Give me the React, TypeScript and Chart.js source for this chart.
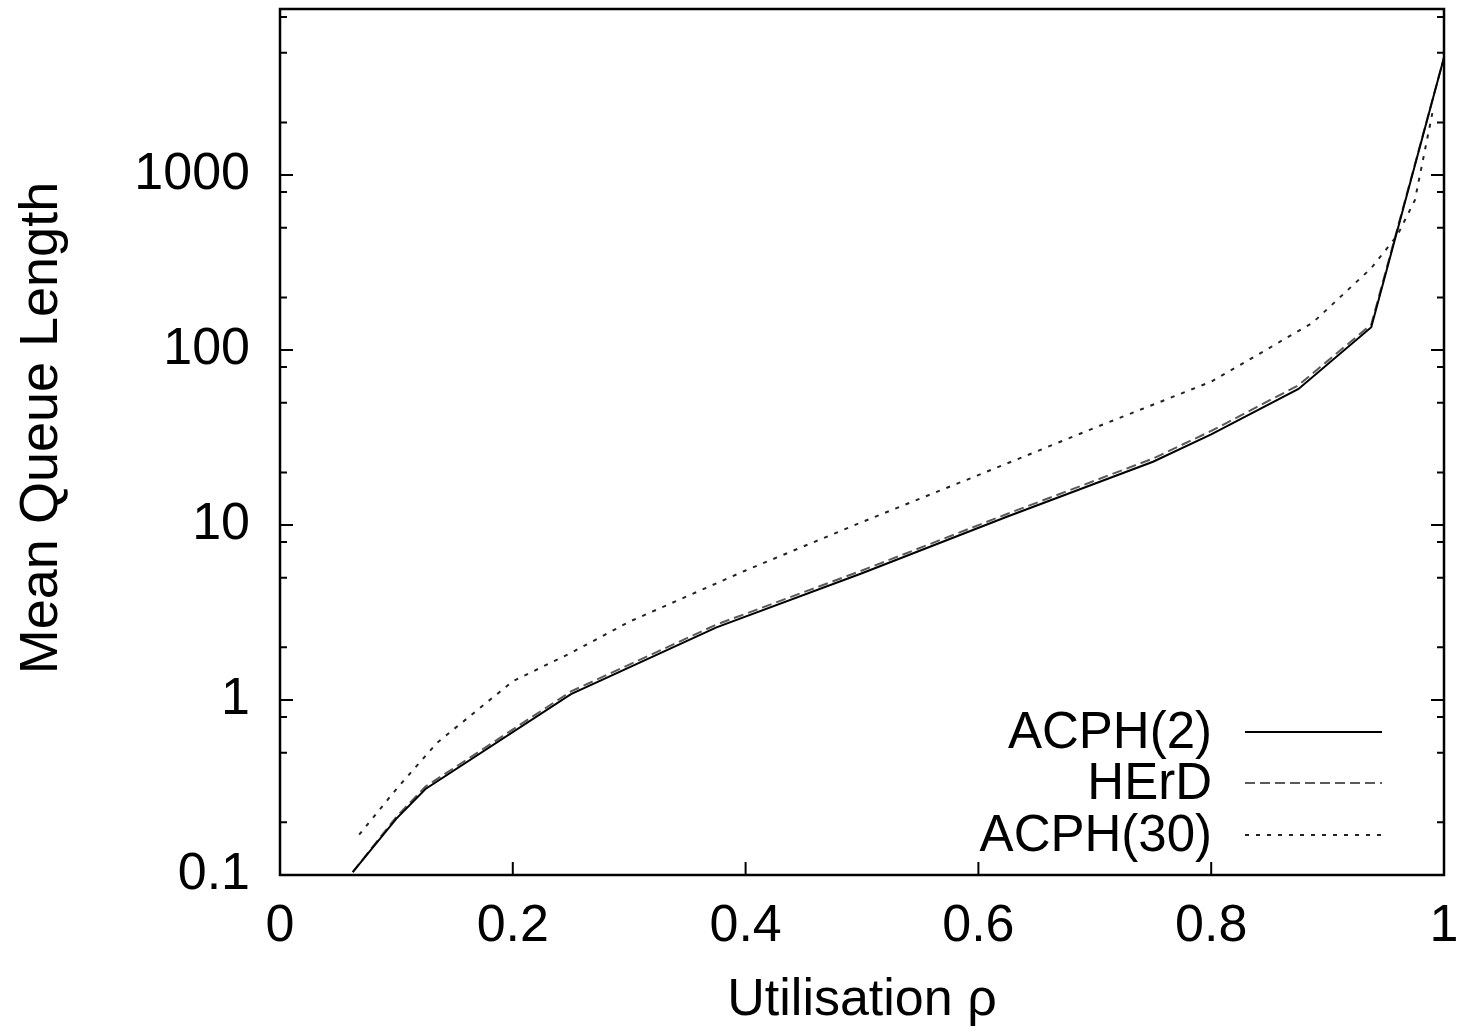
import React, { useEffect, useRef } from 'react';
import { Chart, registerables } from 'chart.js';

Chart.register(...registerables);

// ---- data ----
const seriesNames = ['ACPH(2)', 'HErD', 'ACPH(30)'];

const rhoACPH2 = [0.0625, 0.1, 0.125, 0.25, 0.375, 0.5, 0.625, 0.75, 0.8, 0.875, 0.9375, 1.0];
const qACPH2 = [0.104, 0.21, 0.31, 1.08, 2.6, 5.3, 11.2, 23, 33, 60, 135, 4700];

const rhoHErD = [0.0625, 0.1, 0.125, 0.25, 0.375, 0.5, 0.625, 0.75, 0.8, 0.875, 0.9375, 1.0];
const qHErD = [0.104, 0.215, 0.32, 1.12, 2.7, 5.5, 11.6, 24, 34.5, 63, 140, 4700];

const rhoACPH30 = [0.068, 0.1, 0.135, 0.2, 0.25, 0.3, 0.4, 0.5, 0.6, 0.7, 0.8, 0.887, 0.9375, 0.96, 0.975, 0.99];
const qACPH30 = [0.17, 0.31, 0.57, 1.28, 1.86, 2.8, 5.5, 10.4, 19.3, 36, 66, 143, 294, 454, 720, 2260];

const xTickValues = [0, 0.2, 0.4, 0.6, 0.8, 1];
const xTickLabels = ['0', '0.2', '0.4', '0.6', '0.8', '1'];
const yTickValues = [0.1, 1, 10, 100, 1000];
const yTickLabels = ['0.1', '1', '10', '100', '1000'];
const yMinorTickValues = [0.2, 0.5, 0.8, 2, 5, 8, 20, 50, 80, 200, 500, 800, 2000, 5000, 8000];

const xTitle = 'Utilisation ρ';
const yTitle = 'Mean Queue Length';

const FONT = '"Liberation Sans", Arial, Helvetica, sans-serif';

const toPoints = (xs: number[], ys: number[]) => xs.map((x, i) => ({ x, y: ys[i] }));

const framePlugin = {
  id: 'gnuFrame',
  afterDatasetsDraw(chart: any) {
    const { ctx, chartArea: a, scales } = chart;
    const xs = scales.x;
    const ys = scales.y;
    ctx.save();
    ctx.strokeStyle = '#000';
    ctx.setLineDash([]);
    // ticks
    ctx.lineWidth = 2;
    const major = 13;
    const minor = 7;
    ctx.beginPath();
    yTickValues.forEach((v) => {
      const p = ys.getPixelForValue(v);
      ctx.moveTo(a.left, p); ctx.lineTo(a.left + major, p);
      ctx.moveTo(a.right, p); ctx.lineTo(a.right - major, p);
    });
    yMinorTickValues.forEach((v) => {
      const p = ys.getPixelForValue(v);
      if (p < a.top || p > a.bottom) return;
      ctx.moveTo(a.left, p); ctx.lineTo(a.left + minor, p);
      ctx.moveTo(a.right, p); ctx.lineTo(a.right - minor, p);
    });
    xTickValues.forEach((v) => {
      const p = xs.getPixelForValue(v);
      ctx.moveTo(p, a.bottom); ctx.lineTo(p, a.bottom - major);
    });
    ctx.stroke();
    // border
    ctx.lineWidth = 2.5;
    ctx.strokeRect(a.left, a.top, a.right - a.left, a.bottom - a.top);

    // y-axis title (rotated), placed like the gnuplot original
    ctx.save();
    ctx.translate(42, 428);
    ctx.rotate(-Math.PI / 2);
    ctx.font = `54px ${FONT}`;
    ctx.fillStyle = '#000';
    ctx.textAlign = 'center';
    ctx.textBaseline = 'middle';
    ctx.fillText(yTitle, 0, 0);
    ctx.restore();

    // legend (gnuplot style: right-aligned text, then line sample)
    const rows = [732, 783, 835];
    const textRight = 1212;
    const sampleL = 1245;
    const sampleR = 1382;
    chart.data.datasets.forEach((ds: any, i: number) => {
      const y = rows[i];
      ctx.font = `51px ${FONT}`;
      ctx.fillStyle = '#000';
      ctx.textAlign = 'right';
      ctx.textBaseline = 'middle';
      ctx.fillText(ds.label, textRight, y + 2);
      ctx.strokeStyle = ds.borderColor;
      ctx.lineWidth = ds.borderWidth;
      ctx.setLineDash(ds.borderDash || []);
      ctx.beginPath();
      ctx.moveTo(sampleL, y);
      ctx.lineTo(sampleR, y);
      ctx.stroke();
    });
    ctx.restore();
  },
};

export default function App() {
  const canvasRef = useRef<HTMLCanvasElement | null>(null);

  useEffect(() => {
    const canvas = canvasRef.current;
    if (!canvas) return;
    const chart = new Chart(canvas, {
      type: 'line',
      data: {
        datasets: [
          {
            label: seriesNames[0],
            data: toPoints(rhoACPH2, qACPH2),
            borderColor: '#000000',
            borderWidth: 2,
            pointRadius: 0,
            fill: false,
            tension: 0,
          },
          {
            label: seriesNames[1],
            data: toPoints(rhoHErD, qHErD),
            borderColor: '#5a5a5a',
            borderWidth: 2,
            borderDash: [10, 5],
            pointRadius: 0,
            fill: false,
            tension: 0,
          },
          {
            label: seriesNames[2],
            data: toPoints(rhoACPH30, qACPH30),
            borderColor: '#222222',
            borderWidth: 2,
            borderDash: [4, 7],
            pointRadius: 0,
            fill: false,
            tension: 0,
          },
        ],
      },
      options: {
        responsive: false,
        animation: false,
        maintainAspectRatio: false,
        parsing: false as any,
        layout: { padding: { top: 9, right: 14, left: 0, bottom: 0 } },
        plugins: {
          legend: { display: false },
          tooltip: { enabled: false },
          title: { display: false },
        },
        scales: {
          x: {
            type: 'linear',
            min: 0,
            max: 1,
            grid: { display: false, drawTicks: false },
            border: { display: false },
            afterBuildTicks: (s: any) => {
              s.ticks = xTickValues.map((v) => ({ value: v }));
            },
            afterFit: (s: any) => {
              s.height = 157;
              s.paddingLeft = 0;
              s.paddingRight = 0;
              s.paddingTop = 0;
              s.paddingBottom = 0;
            },
            ticks: {
              autoSkip: false,
              maxRotation: 0,
              padding: 20,
              color: '#000',
              font: { family: FONT, size: 52 },
              callback: (_v: any, i: number) => xTickLabels[i],
            },
            title: {
              display: true,
              text: xTitle,
              color: '#000',
              font: { family: FONT, size: 52 },
              padding: { top: 0, bottom: 0 },
            },
          },
          y: {
            type: 'logarithmic',
            min: 0.1,
            max: 8900,
            grid: { display: false, drawTicks: false },
            border: { display: false },
            afterBuildTicks: (s: any) => {
              s.ticks = yTickValues.map((v) => ({ value: v }));
            },
            afterFit: (s: any) => {
              s.width = 280;
              s.paddingLeft = 0;
              s.paddingRight = 0;
              s.paddingTop = 0;
              s.paddingBottom = 0;
            },
            ticks: {
              autoSkip: false,
              padding: 30,
              color: '#000',
              font: { family: FONT, size: 52 },
              callback: (_v: any, i: number) => yTickLabels[i],
            },
            title: { display: false },
          },
        },
      },
      plugins: [framePlugin],
    });
    return () => chart.destroy();
  }, []);

  return (
    <div style={{ position: 'fixed', left: 0, top: 0, width: 1458, height: 1032, background: '#fff' }}>
      <canvas ref={canvasRef} width={1458} height={1032} style={{ display: 'block' }} />
    </div>
  );
}
